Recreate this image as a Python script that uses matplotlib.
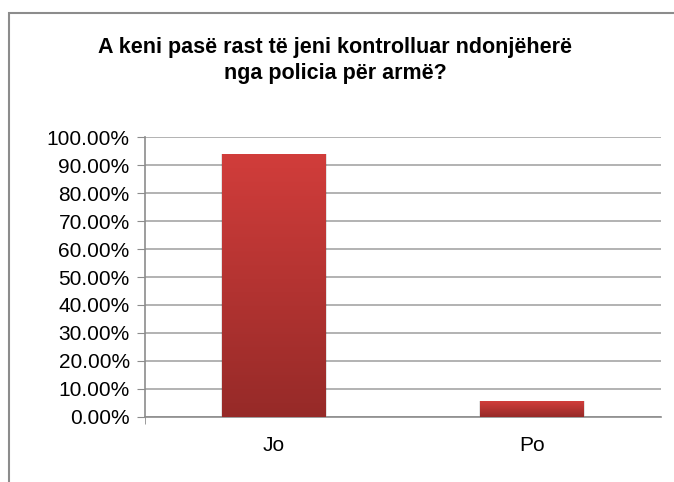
import numpy as np
import matplotlib
matplotlib.use('Agg')
import matplotlib.pyplot as plt
from matplotlib.patches import Rectangle
from matplotlib.ticker import FuncFormatter, MultipleLocator

# survey answers (share of respondents, %)
categories = ['Jo', 'Po']
values = [94.0, 5.5]
title = 'A keni pasë rast të jeni kontrolluar ndonjëherë\nnga policia për armë?'

plt.rcParams['font.family'] = ['Liberation Sans', 'DejaVu Sans']

fig = plt.figure(figsize=(6.74, 4.82), dpi=100)
ax = fig.add_axes([0.2151, 0.1355, 0.7656, 0.5796])

# outer chart frame (cut by the image edges on the right and bottom)
frame = Rectangle((9 / 674, -0.1), 1.2, 1.1 - 13 / 482, transform=fig.transFigure,
                  fill=False, edgecolor='#8c8c8c', linewidth=1.5, zorder=0)
fig.add_artist(frame)

x = np.arange(len(categories))
bars = ax.bar(x, values, width=0.4, color='#b83533', zorder=3, linewidth=0)

# vertical red gradient inside each bar, plus a soft shadow
grad = np.linspace(0, 1, 256).reshape(-1, 1)
cmap = matplotlib.colors.LinearSegmentedColormap.from_list('bar', ['#962a28', '#d13d3b'])
for b in bars:
    bx, by, bw, bh = b.get_x(), b.get_y(), b.get_width(), b.get_height()
    for i, a in enumerate([0.10, 0.07, 0.04]):
        off = 0.006 * (i + 1)
        sh = Rectangle((bx - off * 0.3, by - off * 10), bw + off * 0.6, bh + off * 10,
                       facecolor='black', alpha=a, linewidth=0, zorder=2)
        ax.add_patch(sh)
    im = ax.imshow(grad, extent=(bx, bx + bw, by, by + bh), origin='lower',
                   cmap=cmap, aspect='auto', zorder=4)
    im.set_clip_path(b)

ax.set_xlim(-0.5, 1.5)
ax.set_ylim(0, 100)
ax.set_xticks(x)
ax.set_xticklabels(categories, fontsize=15)
ax.tick_params(axis='x', length=0, pad=14, colors='black')
ax.set_xticks([-0.5], minor=True)
ax.tick_params(axis='x', which='minor', length=5, direction='out', color='#8c8c8c')

ax.yaxis.set_major_locator(MultipleLocator(10))
ax.yaxis.set_major_formatter(FuncFormatter(lambda v, p: '%.2f%%' % v))
ax.tick_params(axis='y', length=6, direction='out', color='#8c8c8c', labelsize=15, pad=5)

ax.grid(axis='y', color='#a6a6a6', linewidth=1.2, zorder=1)
ax.set_axisbelow(True)
for s in ['top', 'right']:
    ax.spines[s].set_visible(False)
for s in ['left', 'bottom']:
    ax.spines[s].set_color('#8c8c8c')
    ax.spines[s].set_linewidth(1.2)

fig.text(0.497, 0.875, title, ha='center', va='center', fontsize=15.5,
         fontweight='bold', linespacing=1.3)

fig.savefig('out.png', dpi=100)
